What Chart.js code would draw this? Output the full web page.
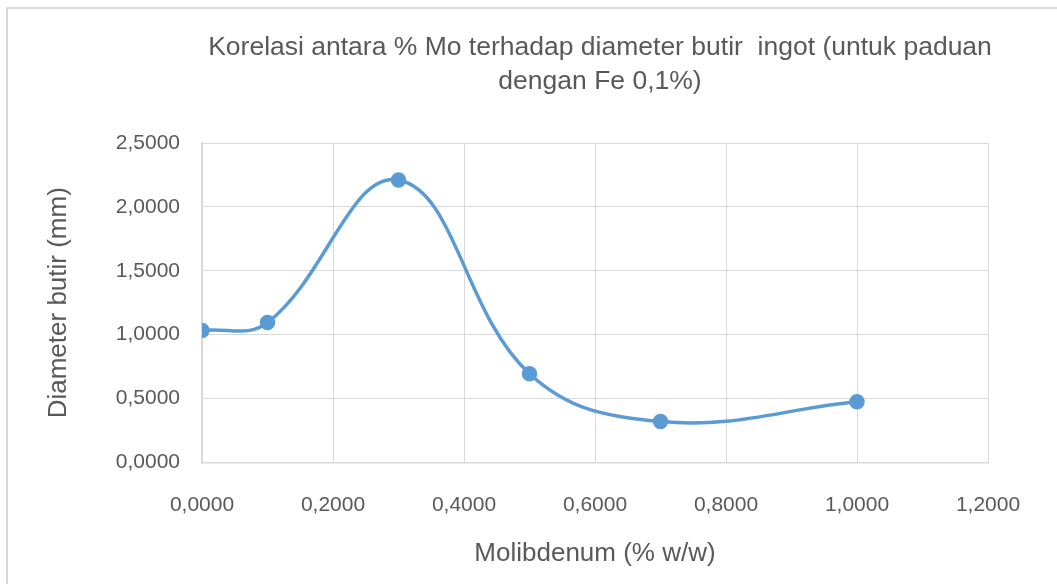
<!DOCTYPE html>
<html>
<head>
<meta charset="utf-8">
<script src="https://cdn.jsdelivr.net/npm/chart.js@4.4.1/dist/chart.umd.min.js"></script>
<style>
  html, body { margin: 0; padding: 0; background: #ffffff; }
  #wrap { width: 1057px; height: 584px; }
</style>
</head>
<body>
<div id="wrap"><canvas id="c" width="1057" height="584"></canvas></div>
<script>
// ---- data ----
const titleLines = ["Korelasi antara % Mo terhadap diameter butir  ingot (untuk paduan", "dengan Fe 0,1%)"];
const xTitle = "Molibdenum (% w/w)";
const yTitle = "Diameter butir (mm)";
const moPercent = [0.0, 0.1, 0.3, 0.5, 0.7, 1.0];
const grainDiameter = [1.033, 1.095, 2.21, 0.695, 0.32, 0.475];
const xTickValues = [0, 0.2, 0.4, 0.6, 0.8, 1.0, 1.2];
const yTickValues = [0, 0.5, 1.0, 1.5, 2.0, 2.5];

const TEXT = '#595959';
const GRID = '#d9d9d9';
const BLUE = '#5B9BD5';
const FONT = "'Liberation Sans', Arial, sans-serif";

const fmt = v => Number(v).toFixed(4).replace('.', ',');

const points = moPercent.map((x, i) => ({ x: x, y: grainDiameter[i] }));

const framePlugin = {
  id: 'frame',
  beforeDraw(chart) {
    const ctx = chart.ctx;
    ctx.save();
    ctx.fillStyle = '#ffffff';
    ctx.fillRect(0, 0, chart.width, chart.height);
    ctx.strokeStyle = GRID;
    ctx.lineWidth = 2;
    ctx.strokeRect(7, 8, chart.width + 20, chart.height + 20);
    ctx.restore();
  },
  afterDraw(chart) {
    const ctx = chart.ctx;
    ctx.save();
    ctx.fillStyle = TEXT;
    ctx.font = "26.5px " + FONT;
    ctx.textAlign = 'center';
    ctx.textBaseline = 'alphabetic';
    ctx.fillText(titleLines[0], 600, 55);
    ctx.fillText(titleLines[1], 600, 89);
    ctx.restore();
  }
};

new Chart(document.getElementById('c'), {
  type: 'line',
  data: {
    datasets: [{
      data: points,
      borderColor: BLUE,
      backgroundColor: BLUE,
      borderWidth: 3.5,
      pointRadius: 6,
      pointHoverRadius: 6,
      pointBackgroundColor: BLUE,
      pointBorderColor: BLUE,
      tension: 0.4,
      fill: false
    }]
  },
  options: {
    responsive: false,
    animation: false,
    events: [],
    layout: { padding: { left: 0, right: 69, top: 143, bottom: 0 } },
    plugins: {
      legend: { display: false },
      title: { display: false },
      tooltip: { enabled: false }
    },
    scales: {
      x: {
        type: 'linear',
        min: 0, max: 1.2,
        afterBuildTicks: s => { s.ticks = xTickValues.map(v => ({ value: v })); },
        afterFit: s => { s.height = 121.5; },
        grid: { color: GRID, lineWidth: 1, drawTicks: false },
        border: { color: GRID, width: 1.5 },
        ticks: {
          color: TEXT, font: { family: FONT, size: 21 }, padding: 30,
          maxRotation: 0, autoSkip: false,
          callback: v => fmt(v)
        },
        title: {
          display: true, text: xTitle, color: TEXT,
          font: { family: FONT, size: 26 }, padding: { top: 0, bottom: 15 }
        }
      },
      y: {
        type: 'linear',
        min: 0, max: 2.5,
        afterBuildTicks: s => { s.ticks = yTickValues.map(v => ({ value: v })); },
        afterFit: s => { s.width = 202; },
        grid: { color: GRID, lineWidth: 1, drawTicks: false },
        border: { color: GRID, width: 1.5 },
        ticks: {
          color: TEXT, font: { family: FONT, size: 21 }, padding: 22,
          autoSkip: false,
          callback: v => fmt(v)
        },
        title: {
          display: true, text: yTitle, color: TEXT,
          font: { family: FONT, size: 26 }, padding: { top: 43, bottom: 0 }
        }
      }
    }
  },
  plugins: [framePlugin]
});
</script>
</body>
</html>
